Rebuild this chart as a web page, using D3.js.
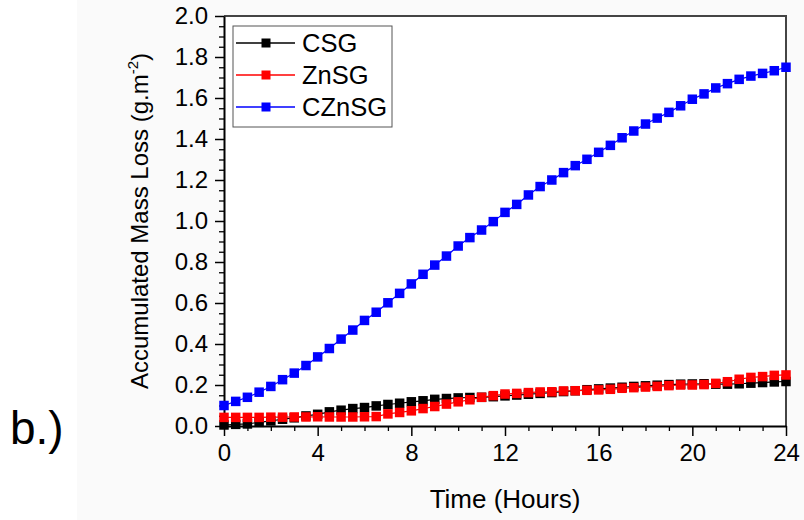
<!DOCTYPE html>
<html>
<head>
<meta charset="utf-8">
<script src="https://cdn.jsdelivr.net/npm/d3@7"></script>
<style>
  html, body { margin: 0; padding: 0; background: #fff; }
  svg { display: block; font-family: "Liberation Sans", Arial, sans-serif; }
</style>
</head>
<body>
<div id="chart"></div>
<script>
const hours = [0, 0.5, 1, 1.5, 2, 2.5, 3, 3.5, 4, 4.5, 5, 5.5, 6, 6.5, 7, 7.5, 8, 8.5, 9, 9.5,
  10, 10.5, 11, 11.5, 12, 12.5, 13, 13.5, 14, 14.5, 15, 15.5, 16, 16.5, 17, 17.5, 18, 18.5, 19, 19.5,
  20, 20.5, 21, 21.5, 22, 22.5, 23, 23.5, 24];

const csg = [0.005, 0.008, 0.010, 0.018, 0.025, 0.033, 0.040, 0.049, 0.057, 0.069, 0.077, 0.085, 0.090, 0.098,
  0.105, 0.111, 0.118, 0.123, 0.130, 0.134, 0.137, 0.139, 0.140, 0.143, 0.147, 0.151, 0.155, 0.159, 0.163,
  0.168, 0.172, 0.177, 0.181, 0.185, 0.189, 0.193, 0.196, 0.199, 0.202, 0.204, 0.205, 0.206, 0.204, 0.204,
  0.206, 0.209, 0.212, 0.215, 0.217];

const znsg = [0.042, 0.042, 0.042, 0.042, 0.043, 0.043, 0.044, 0.044, 0.045, 0.044, 0.044, 0.044, 0.045, 0.046,
  0.059, 0.066, 0.074, 0.085, 0.095, 0.107, 0.118, 0.128,
  0.140, 0.148, 0.156, 0.159, 0.163, 0.166, 0.167, 0.171, 0.172, 0.174, 0.176, 0.179, 0.184, 0.187, 0.190,
  0.193, 0.197, 0.200, 0.200, 0.202, 0.208, 0.216, 0.228, 0.237, 0.241, 0.247, 0.249];

const czns = [0.10, 0.12, 0.14, 0.165, 0.193, 0.226, 0.258, 0.295, 0.337, 0.378, 0.424, 0.468, 0.515, 0.555,
  0.601, 0.647, 0.693, 0.740, 0.785, 0.829, 0.878, 0.919, 0.956, 0.997, 1.042, 1.081, 1.127, 1.168, 1.200,
  1.236, 1.270, 1.301, 1.335, 1.369, 1.406, 1.439, 1.473, 1.502, 1.530, 1.562, 1.594, 1.620, 1.649, 1.670,
  1.691, 1.707, 1.720, 1.733, 1.750];

const seriesNames = ["CSG", "ZnSG", "CZnSG"];
const seriesColors = ["#000000", "#ff0000", "#0000ff"];
const seriesValues = [csg, znsg, czns];

const xMajor = [0, 4, 8, 12, 16, 20, 24];
const yMajor = [0.0, 0.2, 0.4, 0.6, 0.8, 1.0, 1.2, 1.4, 1.6, 1.8, 2.0];

const W = 804, H = 520;
const m = { left: 224, right: 18, top: 16, bottom: 94 };

const svg = d3.select("#chart").append("svg")
  .attr("width", W).attr("height", H);

// faint grey page behind the chart part of the figure
svg.append("rect").attr("x", 77).attr("y", 0).attr("width", W - 77).attr("height", H).attr("fill", "#fafafa");

const x = d3.scaleLinear().domain([0, 24]).range([m.left, W - m.right]);
const y = d3.scaleLinear().domain([0, 2]).range([H - m.bottom, m.top]);

svg.append("rect")
  .attr("x", x(0)).attr("y", y(2))
  .attr("width", x(24) - x(0)).attr("height", y(0) - y(2))
  .attr("fill", "#fff");

// frame top/right
svg.append("path")
  .attr("d", `M${x(0)},${y(2)}H${x(24)}V${y(0)}`)
  .attr("fill", "none").attr("stroke", "#444").attr("stroke-width", 2);

// minor ticks
const xMinor = d3.range(0, 25, 1).filter(v => v % 4 !== 0);
const yMinor = d3.range(0, 41).map(i => i * 0.05).filter((v, i) => i % 4 !== 0);

svg.append("g").attr("transform", `translate(0,${y(0)})`)
  .call(d3.axisBottom(x).tickValues(xMinor).tickSize(5).tickFormat(""))
  .call(g => g.select(".domain").remove())
  .call(g => g.selectAll("line").attr("stroke", "#000").attr("stroke-width", 1.3));

svg.append("g").attr("transform", `translate(${x(0)},0)`)
  .call(d3.axisLeft(y).tickValues(yMinor).tickSize(5).tickFormat(""))
  .call(g => g.select(".domain").remove())
  .call(g => g.selectAll("line").attr("stroke", "#000").attr("stroke-width", 1.3));

const xAxis = svg.append("g").attr("transform", `translate(0,${y(0)})`)
  .call(d3.axisBottom(x).tickValues(xMajor).tickSize(10).tickSizeOuter(0).tickPadding(8).tickFormat(d3.format("d")));
xAxis.select(".domain").attr("stroke", "#000").attr("stroke-width", 2);
xAxis.selectAll("line").attr("stroke", "#000").attr("stroke-width", 1.5);
xAxis.selectAll("text").attr("fill", "#000").style("font-size", "24px").style("font-family", "'Liberation Sans', Arial, sans-serif");

const yAxis = svg.append("g").attr("transform", `translate(${x(0)},0)`)
  .call(d3.axisLeft(y).tickValues(yMajor).tickSize(9).tickSizeOuter(0).tickPadding(7).tickFormat(d3.format(".1f")));
yAxis.select(".domain").attr("stroke", "#000").attr("stroke-width", 2);
yAxis.selectAll("line").attr("stroke", "#000").attr("stroke-width", 1.5);
yAxis.selectAll("text").attr("fill", "#000").style("font-size", "24px").style("font-family", "'Liberation Sans', Arial, sans-serif");

// series
const line = d3.line().x((d, i) => x(hours[i])).y(d => y(d));
const ms = 9.5;

seriesValues.forEach((vals, k) => {
  const g = svg.append("g");
  g.append("path").datum(vals)
    .attr("d", line)
    .attr("fill", "none")
    .attr("stroke", seriesColors[k])
    .attr("stroke-width", 1.2);
  g.selectAll("rect").data(vals).join("rect")
    .attr("x", (d, i) => x(hours[i]) - ms / 2)
    .attr("y", d => y(d) - ms / 2)
    .attr("width", ms).attr("height", ms)
    .attr("fill", seriesColors[k]);
});

// legend
const lg = svg.append("g").attr("transform", "translate(233,26)");
lg.append("rect").attr("width", 159).attr("height", 101)
  .attr("fill", "#fff").attr("stroke", "#555").attr("stroke-width", 1);
seriesNames.forEach((name, k) => {
  const cy = 17 + k * 32;
  lg.append("line").attr("x1", 3).attr("x2", 62).attr("y1", cy).attr("y2", cy)
    .attr("stroke", seriesColors[k]).attr("stroke-width", 1.5);
  lg.append("rect").attr("x", 33 - 4.5).attr("y", cy - 4.5).attr("width", 9).attr("height", 9)
    .attr("fill", seriesColors[k]);
  lg.append("text").attr("x", 69).attr("y", cy + 9)
    .style("font-size", "25.5px").attr("fill", "#000").text(name);
});

// axis titles
svg.append("text")
  .attr("x", (x(0) + x(24)) / 2).attr("y", 508)
  .attr("text-anchor", "middle")
  .style("font-size", "26px")
  .text("Time (Hours)");

const yt = svg.append("text")
  .attr("transform", `translate(148,${(y(0) + y(2)) / 2}) rotate(-90)`)
  .attr("text-anchor", "middle")
  .style("font-size", "24px");
yt.append("tspan").text("Accumulated Mass Loss (g.m");
yt.append("tspan").attr("dy", -10).style("font-size", "15px").text("-2");
yt.append("tspan").attr("dy", 10).text(")");

// panel label
svg.append("text").attr("x", 10).attr("y", 444)
  .style("font-size", "46px").text("b.)");
</script>
</body>
</html>
